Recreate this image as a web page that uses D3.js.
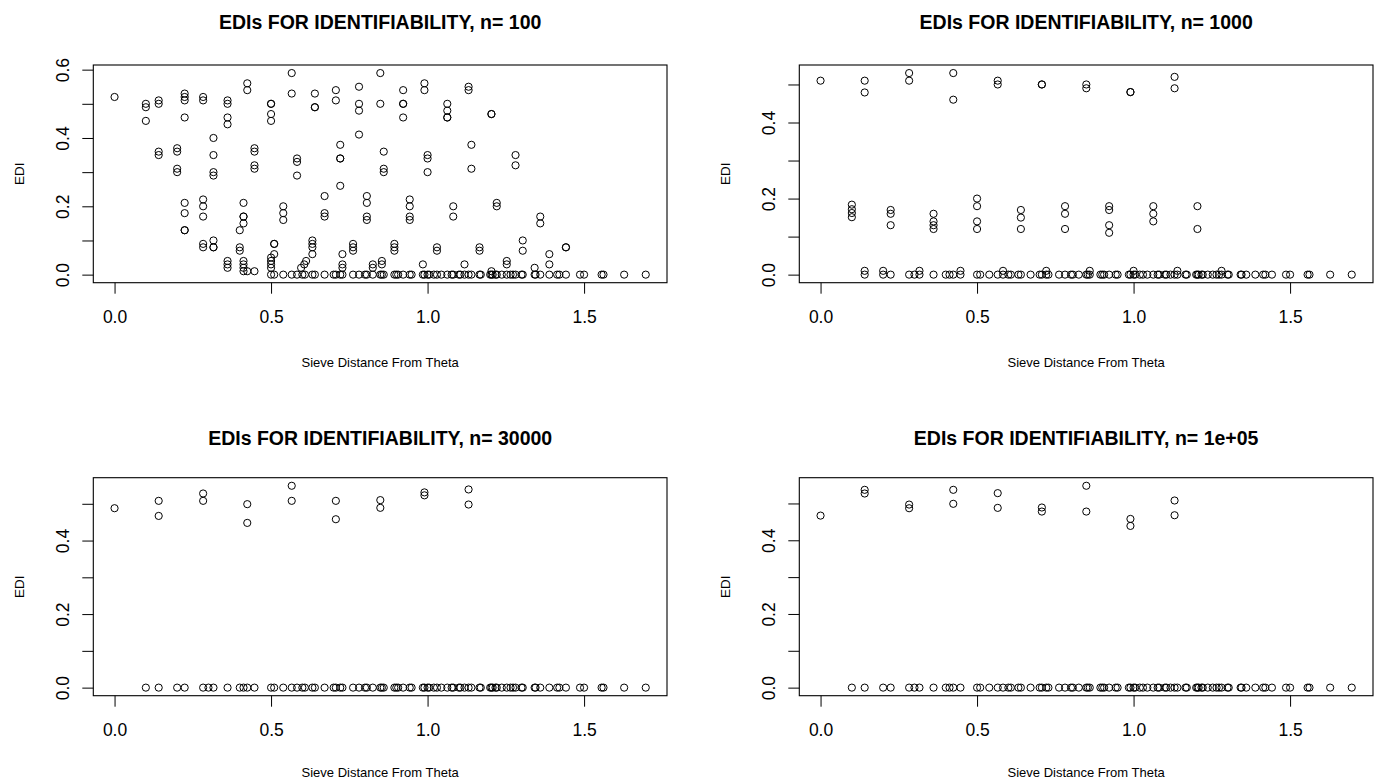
<!DOCTYPE html>
<html>
<head>
<meta charset="utf-8">
<script src="https://cdn.jsdelivr.net/npm/d3@7"></script>
<style>
  body { margin: 0; background: #fff; }
  text { font-family: "Liberation Sans", Arial, Helvetica, sans-serif; fill: #000; }
</style>
</head>
<body>
<div id="chart"></div>
<script>
// panel titles
var titles = [
    "EDIs FOR IDENTIFIABILITY, n= 100",
    "EDIs FOR IDENTIFIABILITY, n= 1000",
    "EDIs FOR IDENTIFIABILITY, n= 30000",
    "EDIs FOR IDENTIFIABILITY, n= 1e+05"
]
var xTicks = [0, 0.5, 1.0, 1.5]
var yTicks = [0, 0.1, 0.2, 0.3, 0.4, 0.5, 0.6]
var xLabel = "Sieve Distance From Theta"
var yLabel = "EDI"

// sieve distances of the points lying on EDI = 0
var zeroDist = [0.1, 0.141, 0.2, 0.224, 0.283, 0.3, 0.316, 0.361, 0.4, 0.412, 0.424, 0.447,
    0.5, 0.51, 0.539, 0.566, 0.583, 0.6, 0.608, 0.632, 0.64, 0.671, 0.7, 0.707, 0.721, 0.728,
    0.762, 0.781, 0.8, 0.806, 0.825, 0.849, 0.854, 0.86, 0.894, 0.9, 0.906, 0.922, 0.943, 0.949,
    0.985, 0.99, 1.0, 1.005, 1.02, 1.03, 1.044, 1.063, 1.077, 1.082, 1.1, 1.105, 1.118, 1.131,
    1.14, 1.166, 1.17, 1.2, 1.204, 1.208, 1.217, 1.221, 1.237, 1.253, 1.265, 1.273, 1.281, 1.3,
    1.304, 1.342, 1.345, 1.36, 1.389, 1.414, 1.421, 1.442, 1.487, 1.5, 1.556, 1.562, 1.628, 1.697]

// first distance that has a zero point, per panel
var zeroFrom = [0.5, 0.141, 0.1, 0.1]

// points above zero: [distance, EDI]
var n100 = [
    [0, 0.52],
    [0.1, 0.50], [0.1, 0.49], [0.1, 0.45],
    [0.141, 0.51], [0.141, 0.50], [0.141, 0.36], [0.141, 0.35],
    [0.2, 0.37], [0.2, 0.36], [0.2, 0.31], [0.2, 0.30],
    [0.224, 0.53], [0.224, 0.52], [0.224, 0.51], [0.224, 0.46], [0.224, 0.21], [0.224, 0.18], [0.224, 0.13], [0.224, 0.13],
    [0.283, 0.52], [0.283, 0.51], [0.283, 0.22], [0.283, 0.20], [0.283, 0.17], [0.283, 0.09], [0.283, 0.08],
    [0.316, 0.40], [0.316, 0.35], [0.316, 0.30], [0.316, 0.29], [0.316, 0.10], [0.316, 0.08], [0.316, 0.08],
    [0.361, 0.51], [0.361, 0.50], [0.361, 0.46], [0.361, 0.44], [0.361, 0.04], [0.361, 0.03], [0.361, 0.02],
    [0.4, 0.13], [0.4, 0.08], [0.4, 0.07],
    [0.412, 0.21], [0.412, 0.17], [0.412, 0.17], [0.412, 0.15], [0.412, 0.04], [0.412, 0.03], [0.412, 0.02], [0.412, 0.01],
    [0.424, 0.56], [0.424, 0.54], [0.424, 0.01],
    [0.447, 0.37], [0.447, 0.36], [0.447, 0.32], [0.447, 0.31], [0.447, 0.01],
    [0.5, 0.50], [0.5, 0.50], [0.5, 0.47], [0.5, 0.45], [0.5, 0.05], [0.5, 0.04], [0.5, 0.03], [0.5, 0.02],
    [0.51, 0.09], [0.51, 0.09], [0.51, 0.06],
    [0.539, 0.20], [0.539, 0.18], [0.539, 0.16],
    [0.566, 0.59], [0.566, 0.53],
    [0.583, 0.34], [0.583, 0.33], [0.583, 0.29],
    [0.596, 0.02], [0.606, 0.03], [0.612, 0.04],
    [0.632, 0.10], [0.632, 0.09], [0.632, 0.08], [0.632, 0.06],
    [0.64, 0.53], [0.64, 0.49], [0.64, 0.49],
    [0.671, 0.23], [0.671, 0.18], [0.671, 0.17],
    [0.707, 0.54], [0.707, 0.51],
    [0.721, 0.38], [0.721, 0.34], [0.721, 0.34], [0.721, 0.26],
    [0.728, 0.06], [0.728, 0.03], [0.728, 0.02],
    [0.762, 0.09], [0.762, 0.08], [0.762, 0.07],
    [0.781, 0.55], [0.781, 0.50], [0.781, 0.48], [0.781, 0.41],
    [0.806, 0.23], [0.806, 0.21], [0.806, 0.17], [0.806, 0.16],
    [0.825, 0.03], [0.825, 0.02],
    [0.849, 0.59], [0.849, 0.50],
    [0.854, 0.04], [0.854, 0.03],
    [0.86, 0.36], [0.86, 0.31], [0.86, 0.30],
    [0.894, 0.09], [0.894, 0.08], [0.894, 0.07],
    [0.922, 0.54], [0.922, 0.50], [0.922, 0.50], [0.922, 0.46],
    [0.943, 0.22], [0.943, 0.20], [0.943, 0.17], [0.943, 0.16],
    [0.985, 0.03],
    [0.99, 0.56], [0.99, 0.54],
    [1.0, 0.35], [1.0, 0.34], [1.0, 0.30],
    [1.03, 0.08], [1.03, 0.07],
    [1.063, 0.50], [1.063, 0.48], [1.063, 0.46], [1.063, 0.46],
    [1.082, 0.20], [1.082, 0.17],
    [1.118, 0.03],
    [1.131, 0.55], [1.131, 0.54],
    [1.14, 0.38], [1.14, 0.31],
    [1.166, 0.08], [1.166, 0.07],
    [1.204, 0.47], [1.204, 0.47], [1.204, 0.01],
    [1.221, 0.21], [1.221, 0.20],
    [1.253, 0.04], [1.253, 0.03],
    [1.281, 0.35], [1.281, 0.32],
    [1.304, 0.10], [1.304, 0.07],
    [1.342, 0.02],
    [1.36, 0.17], [1.36, 0.15],
    [1.389, 0.06], [1.389, 0.03],
    [1.442, 0.08], [1.442, 0.08]
]

var n1000 = [
    [0, 0.51],
    [0.1, 0.184], [0.1, 0.172], [0.1, 0.162], [0.1, 0.151],
    [0.141, 0.51], [0.141, 0.479], [0.141, 0.01],
    [0.2, 0.01],
    [0.224, 0.17], [0.224, 0.16], [0.224, 0.13],
    [0.283, 0.53], [0.283, 0.51],
    [0.316, 0.01],
    [0.361, 0.16], [0.361, 0.14], [0.361, 0.13], [0.361, 0.12],
    [0.424, 0.53], [0.424, 0.46],
    [0.447, 0.01],
    [0.5, 0.20], [0.5, 0.18], [0.5, 0.14], [0.5, 0.12],
    [0.566, 0.51], [0.566, 0.50],
    [0.583, 0.01],
    [0.64, 0.17], [0.64, 0.15], [0.64, 0.12],
    [0.707, 0.50], [0.707, 0.50],
    [0.721, 0.01],
    [0.781, 0.18], [0.781, 0.16], [0.781, 0.12],
    [0.849, 0.50], [0.849, 0.49],
    [0.86, 0.01],
    [0.922, 0.18], [0.922, 0.17], [0.922, 0.13], [0.922, 0.11],
    [0.99, 0.48], [0.99, 0.48],
    [1.0, 0.01],
    [1.063, 0.18], [1.063, 0.16], [1.063, 0.14],
    [1.131, 0.52], [1.131, 0.49],
    [1.14, 0.01],
    [1.204, 0.18], [1.204, 0.12],
    [1.281, 0.01]
]

var n30000 = [
    [0, 0.488],
    [0.141, 0.508], [0.141, 0.467],
    [0.283, 0.528], [0.283, 0.508],
    [0.424, 0.499], [0.424, 0.448],
    [0.566, 0.549], [0.566, 0.508],
    [0.707, 0.508], [0.707, 0.458],
    [0.849, 0.510], [0.849, 0.489],
    [0.99, 0.531], [0.99, 0.523],
    [1.131, 0.539], [1.131, 0.498]
]

var n100000 = [
    [0, 0.467],
    [0.141, 0.537], [0.141, 0.527],
    [0.283, 0.497], [0.283, 0.487],
    [0.424, 0.537], [0.424, 0.499],
    [0.566, 0.528], [0.566, 0.488],
    [0.707, 0.489], [0.707, 0.478],
    [0.849, 0.548], [0.849, 0.478],
    [0.99, 0.458], [0.99, 0.439],
    [1.131, 0.508], [1.131, 0.468]
]

function main() {

    // plot regions (box edges) of the 2 x 2 layout
    var cols = [{ left: 93.3, right: 667 }, { left: 799.3, right: 1373 }]
    var rows = [{ top: 65, bottom: 282.7, title: 36, xlab: 79.3 },
                { top: 477.7, bottom: 695.7, title: 33, xlab: 76.5 }]

    var svg = d3.select("#chart")
        .append("svg")
        .attr("width", 1374)
        .attr("height", 779)

    var raised = [n100, n1000, n30000, n100000]

    raised.forEach((pts, i) => {
        var col = cols[i % 2], row = rows[Math.floor(i / 2)]

        var data = pts.map(d => ({ x: d[0], y: d[1] }))
        zeroDist.filter(z => z >= zeroFrom[i]).forEach(z => data.push({ x: z, y: 0 }))

        // R style: data range stretched by 4% on each side
        var xe = d3.extent(data, d => d.x), ye = d3.extent(data, d => d.y)
        var xp = (xe[1] - xe[0]) * 0.04, yp = (ye[1] - ye[0]) * 0.04

        var x = d3.scaleLinear()
            .domain([xe[0] - xp, xe[1] + xp])
            .range([col.left, col.right])
        var y = d3.scaleLinear()
            .domain([ye[0] - yp, ye[1] + yp])
            .range([row.bottom, row.top])

        var g = svg.append("g")

        var xAxis = g.append("g")
            .attr("transform", "translate(0," + row.bottom + ")")
            .call(d3.axisBottom(x).tickValues(xTicks).tickSize(11).tickSizeOuter(0).tickFormat(d3.format(".1f")))
        xAxis.select(".domain").remove()
        xAxis.selectAll("text")
            .attr("y", 34).attr("dy", "0.36em")
            .style("font-size", "17.5px")

        var yShown = yTicks.filter(v => v <= y.domain()[1])
        var yAxis = g.append("g")
            .attr("transform", "translate(" + col.left + ",0)")
            .call(d3.axisLeft(y).tickValues(yShown).tickSize(11).tickSizeOuter(0)
                .tickFormat(v => Math.round(v * 10) % 2 == 0 ? d3.format(".1f")(v) : ""))
        yAxis.select(".domain").remove()
        yAxis.selectAll("text")
            .attr("x", null).attr("y", null).attr("dy", "0.36em")
            .attr("text-anchor", "middle")
            .attr("transform", "translate(-30.5,0) rotate(-90)")
            .style("font-size", "17.5px")
        g.selectAll(".tick line").attr("stroke", "#000")

        g.append("rect")
            .attr("x", col.left).attr("y", row.top)
            .attr("width", col.right - col.left)
            .attr("height", row.bottom - row.top)
            .attr("fill", "none")
            .attr("stroke", "#000")
            .attr("stroke-width", 1.1)

        g.selectAll("circle")
            .data(data)
            .enter()
            .append("circle")
            .attr("cx", d => x(d.x))
            .attr("cy", d => y(d.y))
            .attr("r", 3.6)
            .attr("fill", "none")
            .attr("stroke", "#000")
            .attr("stroke-width", 1)

        var cx = (col.left + col.right) / 2
        g.append("text")
            .attr("x", cx).attr("y", row.top - row.title)
            .attr("text-anchor", "middle")
            .style("font-size", "19.5px")
            .style("font-weight", "bold")
            .text(titles[i])

        g.append("text")
            .attr("x", cx).attr("y", row.bottom + row.xlab)
            .attr("dy", "0.35em")
            .attr("text-anchor", "middle")
            .style("font-size", "13px")
            .text(xLabel)

        g.append("text")
            .attr("transform", "translate(" + (col.left - 74) + "," + ((row.top + row.bottom) / 2) + ") rotate(-90)")
            .attr("dy", "0.35em")
            .attr("text-anchor", "middle")
            .style("font-size", "13.5px")
            .text(yLabel)
    })
}

main();
</script>
</body>
</html>
